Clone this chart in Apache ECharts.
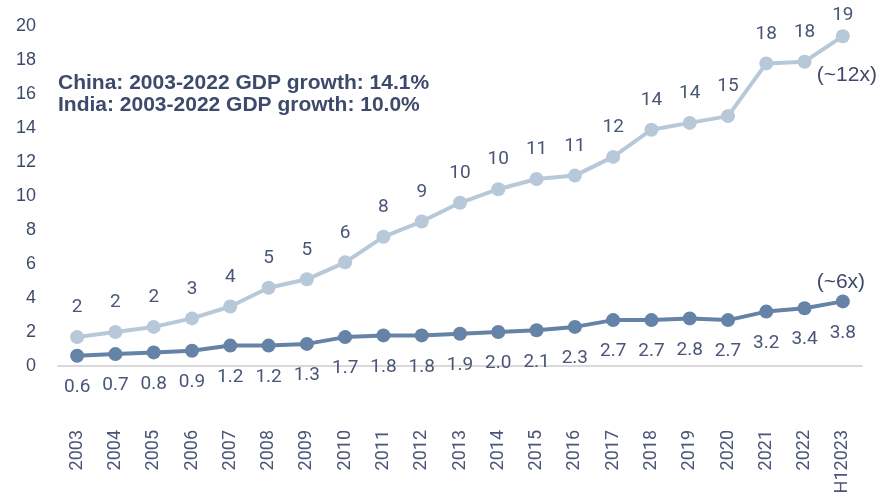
<!DOCTYPE html>
<html>
<head>
<meta charset="utf-8">
<script src="https://cdn.jsdelivr.net/npm/echarts@6/dist/echarts.min.js"></script>
<style>
  html, body { margin: 0; padding: 0; background: #ffffff; }
  #chart { width: 878px; height: 503px; }
</style>
</head>
<body>
<div id="chart"></div>
<script>
// GDP, USD trillion
const years = ['2003', '2004', '2005', '2006', '2007', '2008', '2009', '2010', '2011', '2012',
  '2013', '2014', '2015', '2016', '2017', '2018', '2019', '2020', '2021', '2022', 'H12023'];
const chinaGdp = [1.7, 2.0, 2.3, 2.8, 3.5, 4.6, 5.1, 6.1, 7.6, 8.5,
  9.6, 10.4, 11.0, 11.2, 12.3, 13.9, 14.3, 14.7, 17.8, 17.9, 19.4];
const indiaGdp = [0.6, 0.7, 0.8, 0.9, 1.2, 1.2, 1.3, 1.7, 1.8, 1.8,
  1.9, 2.0, 2.1, 2.3, 2.7, 2.7, 2.8, 2.7, 3.2, 3.4, 3.8];
const yTicks = { min: 0, max: 20, step: 2 };
const headline = [
  'China: 2003-2022 GDP growth: 14.1%',
  'India: 2003-2022 GDP growth: 10.0%'
];
const multiples = { china: '(~12x)', india: '(~6x)' };

const TEXT = '#3d4a6b';
const LABEL = '#4a5677';
const CHINA = '#b7c9d9';
const INDIA = '#6583a6';
const SANS = "'Liberation Sans', Arial, sans-serif";

const chart = echarts.init(document.getElementById('chart'), null, { renderer: 'canvas' });

const last = years.length - 1;
// the final China label sits closer to its point so it stays inside the frame
const chinaData = chinaGdp.map((v, i) =>
  i === last ? { value: v, label: { distance: 4 } } : v);

chart.setOption({
  animation: false,
  title: {
    text: headline.join('\n'),
    left: 53,
    top: 67,
    textStyle: {
      fontFamily: SANS,
      fontSize: 21,
      fontWeight: 'bold',
      color: TEXT,
      lineHeight: 22
    }
  },
  grid: { left: 58, right: 16, top: 26, bottom: 137, containLabel: false },
  xAxis: {
    type: 'category',
    data: years,
    boundaryGap: true,
    axisLine: { show: true, lineStyle: { color: '#d9d9d9', width: 2 } },
    axisTick: { show: false },
    axisLabel: {
      rotate: 90,
      margin: 64,
      interval: 0,
      fontFamily: 'Roboto, sans-serif',
      fontSize: 18,
      color: LABEL
    }
  },
  yAxis: {
    type: 'value',
    min: yTicks.min,
    max: yTicks.max,
    interval: yTicks.step,
    splitLine: { show: false },
    axisLine: { show: false },
    axisTick: { show: false },
    axisLabel: {
      margin: 22,
      fontFamily: SANS,
      fontSize: 18,
      color: TEXT
    }
  },
  series: [
    {
      name: 'China',
      type: 'line',
      data: chinaData,
      symbol: 'circle',
      symbolSize: 14,
      lineStyle: { color: CHINA, width: 4 },
      itemStyle: { color: CHINA },
      label: {
        show: true,
        position: 'top',
        distance: 13,
        formatter: p => Math.round(p.value).toString(),
        fontFamily: 'Roboto, sans-serif',
        fontSize: 19,
        color: LABEL
      },
      markPoint: {
        symbol: 'circle',
        symbolSize: 0,
        data: [{ coord: [last, chinaGdp[last]], value: multiples.china }],
        label: {
          show: true,
          offset: [4, 39],
          formatter: multiples.china,
          fontFamily: SANS,
          fontSize: 21,
          color: TEXT
        }
      },
      z: 2
    },
    {
      name: 'India',
      type: 'line',
      data: indiaGdp,
      symbol: 'circle',
      symbolSize: 14,
      lineStyle: { color: INDIA, width: 4 },
      itemStyle: { color: INDIA },
      label: {
        show: true,
        position: 'bottom',
        distance: 15,
        formatter: p => p.value.toFixed(1),
        fontFamily: 'Roboto, sans-serif',
        fontSize: 19,
        color: LABEL
      },
      markPoint: {
        symbol: 'circle',
        symbolSize: 0,
        data: [{ coord: [last, indiaGdp[last]], value: multiples.india }],
        label: {
          show: true,
          offset: [-2, -19],
          formatter: multiples.india,
          fontFamily: SANS,
          fontSize: 21,
          color: TEXT
        }
      },
      z: 3
    }
  ]
});
</script>
</body>
</html>
